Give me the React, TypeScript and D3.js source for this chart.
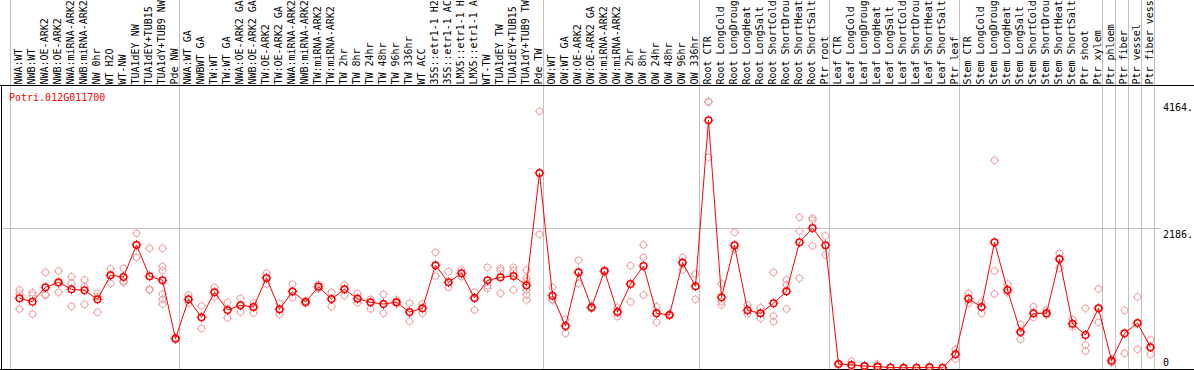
import React from "react";
import * as d3 from "d3";

const sampleLabels = [
  "NWA:WT", "NWB:WT", "NWA:OE-ARK2", "NWB:OE-ARK2", "NWA:miRNA-ARK2", "NWB:miRNA-ARK2",
  "NW 0hr", "WT H2O", "WT-NW", "TUA1dEY NW", "TUA1dEY+TUB15", "TUA1dY+TUB9 NW", "Pde NW",
  "NWA:WT GA", "NWBWT GA", "TW:WT", "TW:WT GA", "NWA:OE-ARK2 GA", "NWB:OE-ARK2 GA",
  "TW:OE-ARK2", "TW:OE-ARK2 GA", "NWA:miRNA-ARK2 GA", "NWB:miRNA-ARK2 GA", "TW:miRNA-ARK2",
  "TW:miRNA-ARK2 GA", "TW 2hr", "TW 8hr", "TW 24hr", "TW 48hr", "TW 96hr", "TW 336hr",
  "WT ACC", "35S::etr1-1 H2O", "35S::etr1-1 ACC", "LMX5::etr1-1 H2O", "LMX5::etr1-1 ACC",
  "WT-TW", "TUA1dEY TW", "TUA1dEY+TUB15 TW", "TUA1dY+TUB9 TW", "Pde TW",
  "OW:WT", "OW:WT GA", "OW:OE-ARK2", "OW:OE-ARK2 GA", "OW:miRNA-ARK2", "OW:miRNA-ARK2 GA",
  "OW 2hr", "OW 8hr", "OW 24hr", "OW 48hr", "OW 96hr", "OW 336hr",
  "Root CTR", "Root LongCold", "Root LongDrought", "Root LongHeat", "Root LongSalt",
  "Root ShortCold", "Root ShortDrought", "Root ShortHeat", "Root ShortSalt", "Ptr root",
  "Leaf CTR", "Leaf LongCold", "Leaf LongDrought", "Leaf LongHeat", "Leaf LongSalt",
  "Leaf ShortCold", "Leaf ShortDrought", "Leaf ShortHeat", "Leaf ShortSalt", "Ptr leaf",
  "Stem CTR", "Stem LongCold", "Stem LongDrought", "Stem LongHeat", "Stem LongSalt",
  "Stem ShortCold", "Stem ShortDrought", "Stem ShortHeat", "Stem ShortSalt", "Ptr shoot",
  "Ptr xylem", "Ptr phloem", "Ptr fiber", "Ptr vessel", "Ptr fiber vessel",
];

// mean expression per sample
const meanValues = [
  1088, 1035, 1260, 1338, 1229, 1213, 1072, 1447, 1421, 1921, 1432, 1369, 458,
  1072, 791, 1182, 906, 979, 953, 1405, 916, 1195,
  1031, 1270, 1077, 1229, 1083, 1026, 999, 1026, 874, 932,
  1604, 1338, 1479, 1093, 1369, 1416, 1437, 1291, 3045,
  1129, 656, 1494, 948, 1515, 874, 1312, 1593, 854, 828, 1645, 1276,
  3868, 1104, 1916, 901, 854, 1010, 1198, 1963, 2186, 1916,
  62, 47, 31, 21, 8, 5, 5, 10, 2, 213,
  1083, 953, 1963, 1218, 562, 854, 854, 1702, 692, 515, 932,
  114, 541, 703, 323,
];

// replicate values per sample
const replicateValues = [
  [1218, 1156, 921], [1176, 1140, 843], [1494, 1150, 1135], [1515, 1320, 1182],
  [1426, 1322, 963], [1374, 1270, 995], [1166, 1113, 870], [1546, 1450, 1322],
  [1557, 1358, 1338], [2103, 1930, 1728], [1869, 1229, 1218],
  [1869, 1582, 1520, 1156, 1072, 999], [470, 458, 445],
  [1140, 1072, 1010], [968, 791, 620], [1260, 1182, 1113], [1026, 906, 781],
  [1088, 979, 874], [1020, 953, 859], [1479, 1405, 1312], [1010, 916, 838],
  [1307, 1195, 1098], [1050, 1031, 1010], [1307, 1270, 1240], [1182, 1077, 958],
  [1296, 1229, 1129], [1166, 1083, 1020], [1072, 1026, 921], [1150, 999, 854],
  [1062, 1026, 999], [1010, 874, 729], [999, 932, 854], [1806, 1604, 1437],
  [1504, 1338, 1260], [1530, 1479, 1426], [1182, 1093, 906], [1572, 1285, 1244],
  [1557, 1520, 1166], [1572, 1520, 1218], [1530, 1400, 1350, 1218, 1140, 1062],
  [4008, 3039, 2088],
  [1260, 1072, 1060], [760, 656, 541], [1682, 1494, 1322], [960, 948, 930],
  [1530, 1515, 1500], [940, 874, 801], [1597, 1312, 1031], [1921, 1728, 1140],
  [958, 854, 714], [845, 828, 812], [1723, 1645, 1530], [1468, 1276, 1072],
  [4164, 4150, 3290], [1312, 1035, 984], [2119, 1916, 1853], [984, 901, 843],
  [942, 854, 776], [1494, 812, 723], [1374, 1300, 921], [2353, 2135, 1400],
  [2342, 2310, 1905], [2061, 1916, 1765],
  [75, 62, 50], [104, 47, 20], [40, 31, 22], [57, 21, 5], [12, 8, 4], [8, 5, 2],
  [8, 5, 2], [25, 10, 3], [4, 2, 1], [292, 213, 140],
  [1166, 1083, 1010], [1026, 953, 854], [3243, 1515, 1156], [1312, 1218, 1176],
  [682, 562, 448], [958, 854, 791], [906, 854, 828], [1791, 1702, 1557],
  [760, 692, 645], [932, 359, 265], [1234, 932, 713],
  [140, 114, 83], [901, 541, 229], [1109, 703, 292], [437, 323, 213],
];

// index where each group of samples starts
const groupBreaks = [0, 13, 41, 53, 63, 73, 84, 85, 86, 87, 88];
const yTicks = [4164, 2186, 0];
const gridValues = [2186];
const geneId = "Potri.012G011700";

const W = 1194;
const H = 370;
const FONT = "'DejaVu Sans Mono', monospace";
const MAX_CHARS = 14; // header only has room for 14 characters

function Marker({ cx, cy, r, color, sw }) {
  const a = r + sw / 2 - 0.3;
  const b = r + sw / 2 + 0.8;
  return (
    <g stroke={color}>
      <circle cx={cx} cy={cy} r={r} fill="none" strokeWidth={sw} />
      <line x1={cx} x2={cx} y1={cy - b} y2={cy - a} strokeWidth={1} />
      <line x1={cx} x2={cx} y1={cy + a} y2={cy + b} strokeWidth={1} />
      <line x1={cx - b} x2={cx - a} y1={cy} y2={cy} strokeWidth={1} />
      <line x1={cx + a} x2={cx + b} y1={cy} y2={cy} strokeWidth={1} />
    </g>
  );
}

export default function App() {
  const x = d3
    .scaleBand()
    .domain(d3.range(sampleLabels.length))
    .range([10, 10 + 13 * sampleLabels.length]);
  const y = d3.scaleLinear().domain([0, 2186]).range([368, 228]);
  const cx = (i) => x(i) + 9.5;

  const line = d3
    .line()
    .x((d, i) => cx(i))
    .y((d) => y(d));

  const plotRight = x.range()[1];

  return (
    <svg
      width={W}
      height={H}
      style={{ position: "absolute", left: 0, top: 0, background: "#fff" }}
      fontFamily={FONT}
    >
      {/* group separators */}
      {groupBreaks.map((k) => {
        const gx = (k < sampleLabels.length ? x(k) : plotRight) + 0.5;
        return (
          <line key={k} x1={gx} x2={gx} y1={0} y2={369} stroke="#c0c0c0" strokeWidth={1} />
        );
      })}

      {gridValues.map((v) => (
        <line key={v} x1={1} x2={1160} y1={Math.round(y(v)) + 0.5} y2={Math.round(y(v)) + 0.5} stroke="#c0c0c0" />
      ))}

      {/* frame */}
      <line x1={0} x2={W} y1={85.5} y2={85.5} stroke="#000" />
      <line x1={0} x2={W} y1={369.5} y2={369.5} stroke="#000" />
      <line x1={1.5} x2={1.5} y1={85} y2={370} stroke="#000" />

      {/* sample labels */}
      {sampleLabels.map((s, i) => (
        <text
          key={i}
          transform={`translate(${x(i) + 12},84.5) rotate(-90)`}
          fontSize={10}
          fill="#000"
        >
          {s.slice(0, MAX_CHARS)}
        </text>
      ))}

      <text x={9} y={101} fontSize={10} fill="#ff0000">
        {geneId}
      </text>

      {yTicks.map((v) => (
        <text key={v} x={1163} y={Math.min(y(v) + 9.5, 366)} fontSize={10} fill="#000">
          {v === 0 ? "0" : `${v}.`}
        </text>
      ))}

      {/* replicates */}
      {replicateValues.map((reps, i) =>
        reps.map((v, j) => (
          <Marker key={`${i}-${j}`} cx={cx(i)} cy={y(v)} r={3.3} color="#f0a0a0" sw={1} />
        ))
      )}

      <path d={line(meanValues)} fill="none" stroke="#ff0000" strokeWidth={1} />

      {meanValues.map((v, i) => (
        <Marker key={i} cx={cx(i)} cy={y(v)} r={3.3} color="#ff0000" sw={1.5} />
      ))}
    </svg>
  );
}
